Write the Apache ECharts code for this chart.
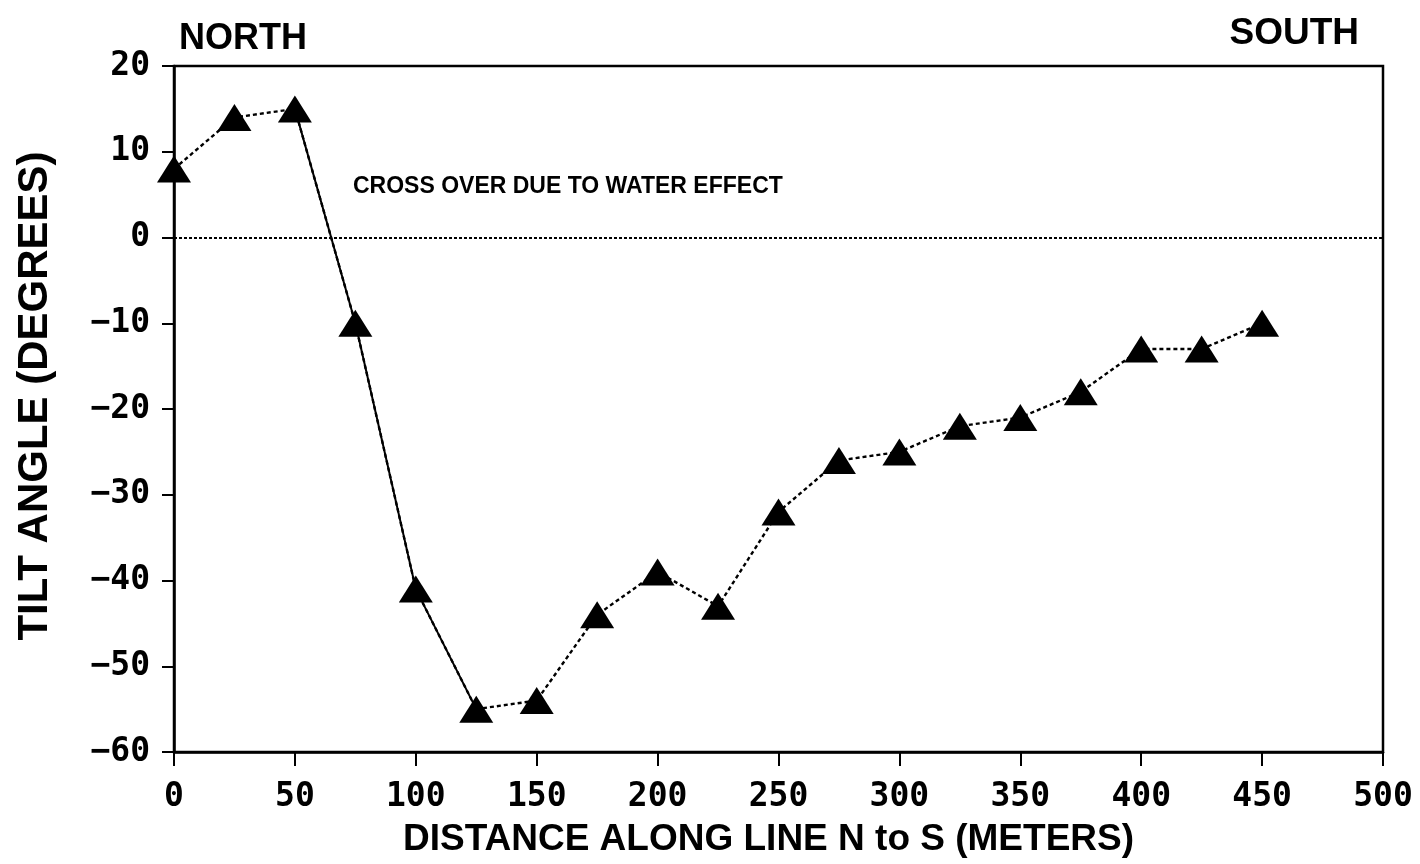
<!DOCTYPE html>
<html>
<head>
<meta charset="utf-8">
<title>Tilt angle along line N to S</title>
<script src="https://cdn.jsdelivr.net/npm/echarts@6/dist/echarts.min.js"></script>
<style>
  html, body { margin: 0; padding: 0; background: #ffffff; }
  #chart { width: 1420px; height: 864px; }
</style>
</head>
<body>
<div id="chart"></div>
<script>
// Station positions along the survey line (metres) and measured tilt (degrees)
const distance = [0, 25, 50, 75, 100, 125, 150, 175, 200, 225, 250, 275, 300, 325, 350, 375, 400, 425, 450];
const tilt = [8, 14, 15, -10, -41, -55, -54, -44, -39, -43, -32, -26, -25, -22, -21, -18, -13, -13, -10];

// Axis ticks
const xTicks = [0, 50, 100, 150, 200, 250, 300, 350, 400, 450, 500];
const yTicks = [-60, -50, -40, -30, -20, -10, 0, 10, 20];

// Stations whose connecting segments are drawn as a solid line (the steep drop)
const solidFrom = 2;
const solidTo = 5;

// Text
const xTitle = 'DISTANCE ALONG LINE N to S (METERS)';
const yTitle = 'TILT ANGLE (DEGREES)';
const leftTag = 'NORTH';
const rightTag = 'SOUTH';
const note = 'CROSS OVER DUE TO WATER EFFECT';

const points = distance.map((d, i) => [d, tilt[i]]);
const solidPoints = points.slice(solidFrom, solidTo + 1);

const tickFont = {
  fontFamily: 'DejaVu Sans Mono',
  fontWeight: 'bold',
  fontSize: 33,
  color: '#000'
};
const titleFont = {
  fontFamily: 'Liberation Sans, Arial, sans-serif',
  fontWeight: 'bold',
  color: '#000'
};
const fmt = v => String(v).replace('-', '\u2212');

const chart = echarts.init(document.getElementById('chart'), null, { renderer: 'canvas' });

chart.setOption({
  animation: false,
  backgroundColor: '#ffffff',
  title: [
    { text: leftTag, left: 174, top: 16, textStyle: Object.assign({ fontSize: 36 }, titleFont) },
    { text: rightTag, right: 56, top: 10, textStyle: Object.assign({ fontSize: 37 }, titleFont) }
  ],
  grid: {
    left: 174, right: 37, top: 66, bottom: 112,
    show: true,
    borderColor: '#000',
    borderWidth: 2.5,
    backgroundColor: 'transparent'
  },
  xAxis: {
    type: 'value',
    min: xTicks[0],
    max: xTicks[xTicks.length - 1],
    interval: xTicks[1] - xTicks[0],
    axisLine: { show: true, onZero: false, lineStyle: { color: '#000', width: 2.5 } },
    axisTick: { show: true, inside: false, length: 14, lineStyle: { color: '#000', width: 2 } },
    splitLine: { show: false },
    axisLabel: Object.assign({ margin: 29, formatter: fmt }, tickFont),
    name: xTitle,
    nameLocation: 'middle',
    nameGap: 69,
    nameTextStyle: Object.assign({ fontSize: 37, padding: [0, 20, 0, 0] }, titleFont)
  },
  yAxis: {
    type: 'value',
    min: yTicks[0],
    max: yTicks[yTicks.length - 1],
    interval: yTicks[1] - yTicks[0],
    axisLine: { show: true, onZero: false, lineStyle: { color: '#000', width: 2.5 } },
    axisTick: { show: true, inside: false, length: 12, lineStyle: { color: '#000', width: 2 } },
    splitLine: { show: false },
    axisLabel: Object.assign({ margin: 24, formatter: fmt }, tickFont),
    name: yTitle,
    nameLocation: 'middle',
    nameGap: 118,
    nameTextStyle: Object.assign({ fontSize: 42, padding: [0, 0, 0, 26] }, titleFont)
  },
  graphic: [
    {
      type: 'text',
      left: 353,
      top: 175,
      style: {
        text: note,
        font: 'bold 23px "Liberation Sans", Arial, sans-serif',
        fill: '#000'
      }
    }
  ],
  series: [
    {
      name: 'steep',
      type: 'line',
      data: solidPoints,
      symbol: 'none',
      z: 2,
      lineStyle: { color: '#000', width: 2, type: 'solid' },
      silent: true
    },
    {
      name: 'tilt',
      type: 'line',
      data: points,
      symbol: 'triangle',
      symbolSize: [34, 27],
      z: 3,
      itemStyle: { color: '#000', borderWidth: 0 },
      lineStyle: { color: '#000', width: 2.4, type: [4, 3] },
      markLine: {
        silent: true,
        symbol: ['none', 'none'],
        label: { show: false },
        lineStyle: { color: '#000', width: 2, type: [3, 2] },
        data: [{ yAxis: 0 }]
      }
    }
  ]
});
</script>
</body>
</html>
